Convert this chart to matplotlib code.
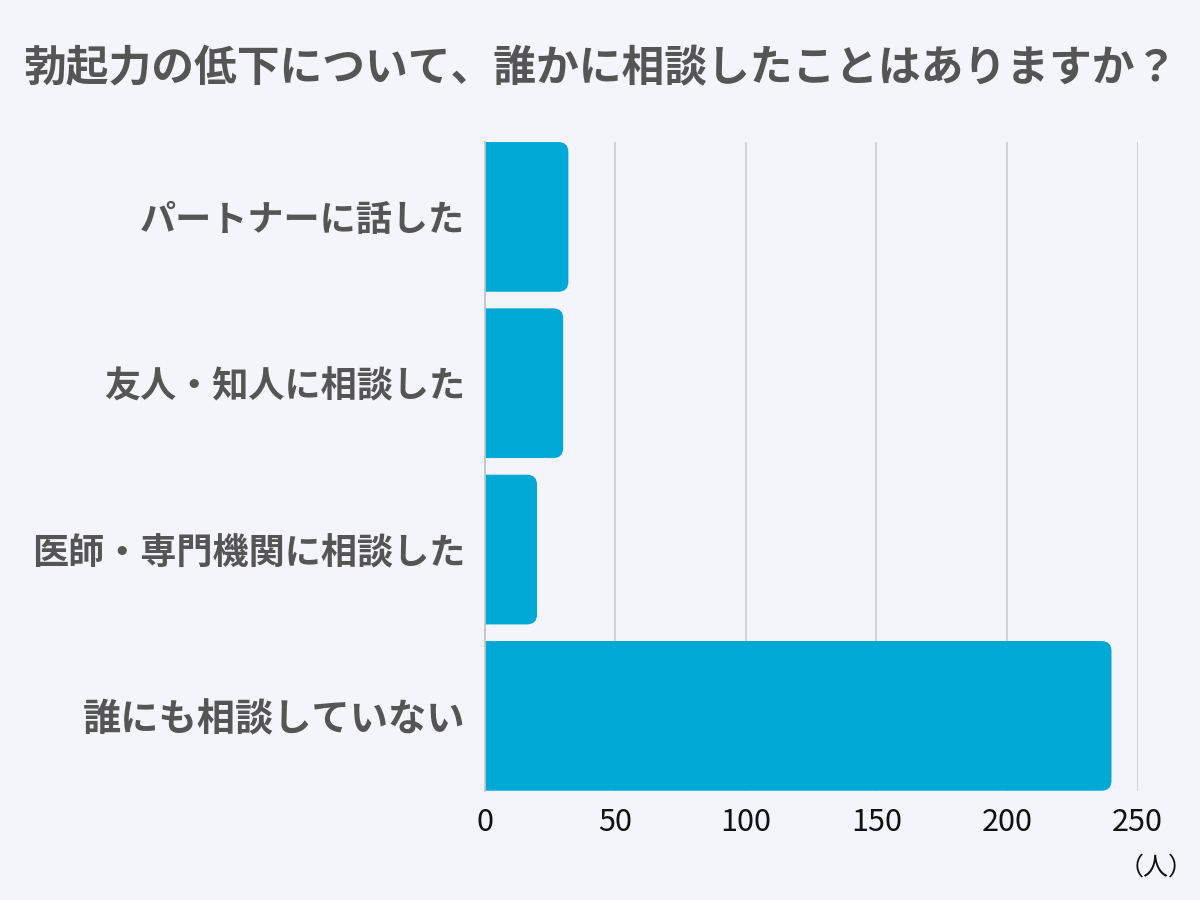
import matplotlib
matplotlib.use("Agg")
import matplotlib.pyplot as plt
from matplotlib.patches import FancyBboxPatch

categories = ["パートナーに話した", "友人・知人に相談した", "医師・専門機関に相談した", "誰にも相談していない"]
values = [32, 30, 20, 240]
xticks = [0, 50, 100, 150, 200, 250]
title = "勃起力の低下について、誰かに相談したことはありますか？"
unit = "（人）"

plt.rcParams['font.family'] = ['Noto Sans CJK JP', 'DejaVu Sans']

BG = "#f4f5fb"
BAR = "#00a8d6"
TXT = "#555555"

fig = plt.figure(figsize=(12, 9), dpi=100, facecolor=BG)
ax = fig.add_axes([0.404, 0.1214, 0.948 - 0.404, 0.8422 - 0.1214])
ax.set_facecolor(BG)

ypos = list(range(len(categories)))
bars = ax.barh(ypos, values, height=0.9, color="none")
ax.set_xlim(0, 250)
ax.set_ylim(len(categories) - 0.55, -0.45)

# rounded right corners
fig.canvas.draw()
px_x = ax.transData.transform((1, 0))[0] - ax.transData.transform((0, 0))[0]
px_y = abs(ax.transData.transform((0, 1))[1] - ax.transData.transform((0, 0))[1])
r_px = 10
rx = r_px / px_x
ry = r_px / px_y
for b in bars:
    x0, y0, w, h = b.get_x(), b.get_y(), b.get_width(), b.get_height()
    p = FancyBboxPatch((x0 - 2 * rx, y0), w + 2 * rx, h,
                       boxstyle=f"round,pad=0,rounding_size={rx}",
                       mutation_aspect=ry / rx,
                       facecolor=BAR, edgecolor="none", zorder=3)
    ax.add_patch(p)

ax.set_xticks(xticks)
ax.set_xticklabels([str(t) for t in xticks])
ax.set_yticks(ypos)
ax.set_yticklabels(categories)
ax.tick_params(axis='x', length=0, pad=12, labelsize=22, labelcolor="#111111")
ax.tick_params(axis='y', length=0, pad=14, labelsize=26, labelcolor=TXT)
for i, lab in enumerate(ax.get_yticklabels()):
    lab.set_fontweight("bold")
    if i == len(categories) - 1:
        lab.set_fontsize(27.5)

ax.grid(axis='x', color="#cfd0d6", linewidth=1.3, zorder=0)
ax.set_axisbelow(True)
for s in ["top", "right", "bottom"]:
    ax.spines[s].set_visible(False)
ax.spines["left"].set_color("#c4c5cb")
ax.spines["left"].set_linewidth(1.3)
ax.spines["left"].set_zorder(4)

fig.text(0.5, 0.924, title, ha="center", va="center", fontsize=30.8,
         fontweight="bold", color=TXT)
fig.text(0.995, 0.036, unit, ha="right", va="center", fontsize=18, color="#111111")

fig.savefig("out.png", dpi=100, facecolor=BG)
